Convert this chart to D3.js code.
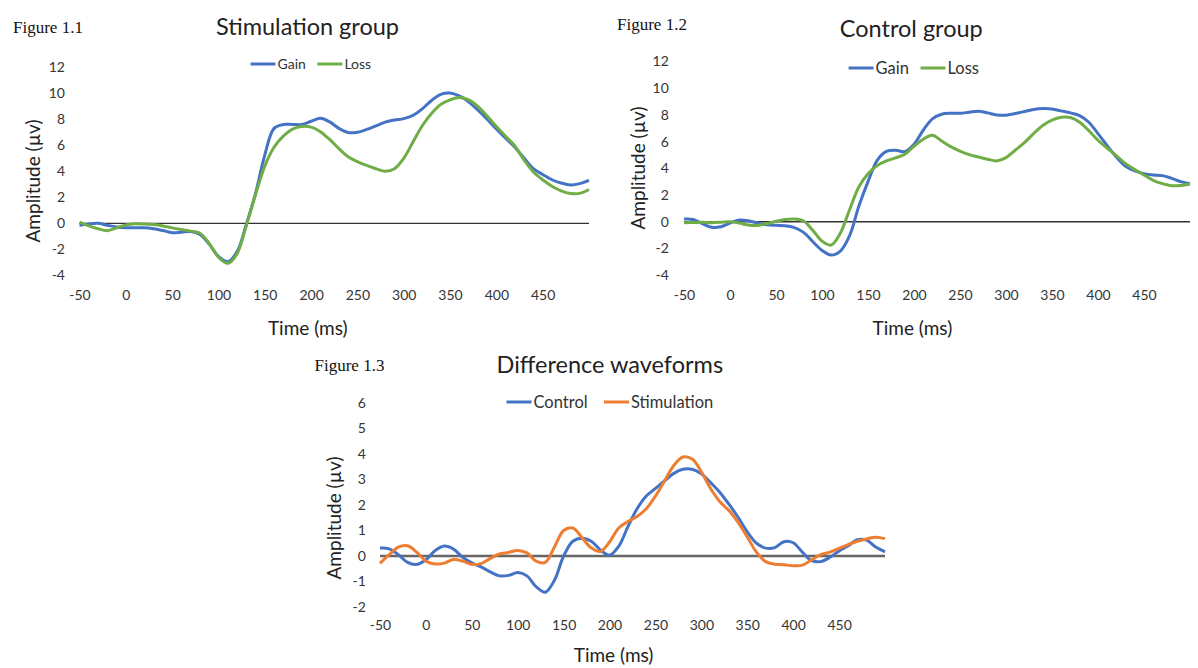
<!DOCTYPE html>
<html>
<head>
<meta charset="utf-8">
<script src="https://cdn.jsdelivr.net/npm/d3@7"></script>
<style>
  body { margin: 0; background: #fff; }
  svg { display: block; }
  .tick text { fill: #353535; }
</style>
</head>
<body>
<svg id="chart" width="1198" height="668"></svg>
<script>
// time axis (ms), shared by the three figures
const times = [-50, -40, -30, -20, -10, 0, 10, 20, 30, 40,
  50, 60, 70, 80, 90, 100, 110, 120, 130, 140,
  150, 160, 170, 180, 190, 200, 210, 220, 230, 240,
  250, 260, 270, 280, 290, 300, 310, 320, 330, 340,
  350, 360, 370, 380, 390, 400, 410, 420, 430, 440,
  450, 460, 470, 480, 490, 500];

const xTicks = [-50, 0, 50, 100, 150, 200, 250, 300, 350, 400, 450];
const yTicksGroup = [-4, -2, 0, 2, 4, 6, 8, 10, 12];
const yTicksDiff = [-2, -1, 0, 1, 2, 3, 4, 5, 6];

// Figure 1.1 - stimulation group
const stimGain = [-0.15, -0.05, 0.0, -0.15, -0.28, -0.34, -0.35, -0.34, -0.42, -0.56,
  -0.72, -0.68, -0.64, -0.85, -1.6, -2.55, -2.95, -2.2, -0.1, 2.3,
  5.25, 7.3, 7.6, 7.6, 7.6, 7.85, 8.08, 7.8, 7.3, 6.98,
  7.0, 7.22, 7.5, 7.78, 7.95, 8.05, 8.3, 8.8, 9.45, 9.92,
  10.02, 9.8, 9.35, 8.72, 8.0, 7.25, 6.55, 5.85, 5.0, 4.2,
  3.75, 3.35, 3.1, 2.95, 3.05, 3.3];
const stimLoss = [0.1, -0.2, -0.42, -0.57, -0.35, -0.12, -0.04, -0.05, -0.1, -0.2,
  -0.35, -0.48, -0.6, -0.77, -1.55, -2.6, -3.08, -2.35, -0.2, 2.2,
  4.4, 5.85, 6.7, 7.25, 7.45, 7.4, 7.05, 6.45, 5.75, 5.12,
  4.75, 4.45, 4.2, 4.0, 4.2, 5.0, 6.25, 7.5, 8.45, 9.15,
  9.5, 9.68, 9.5, 9.0, 8.25, 7.45, 6.7, 5.95, 4.85, 3.95,
  3.35, 2.85, 2.5, 2.3, 2.3, 2.6];

// Figure 1.2 - control group
const ctrlGain = [0.2, 0.17, -0.15, -0.42, -0.38, -0.1, 0.12, 0.07, -0.1, -0.22,
  -0.27, -0.3, -0.44, -0.8, -1.5, -2.15, -2.5, -2.2, -1.05, 1.15,
  3.0, 4.6, 5.27, 5.36, 5.25, 5.8, 6.85, 7.7, 8.05, 8.12,
  8.12, 8.2, 8.28, 8.15, 8.0, 7.98, 8.1, 8.25, 8.41, 8.48,
  8.45, 8.3, 8.15, 7.95, 7.45, 6.6, 5.7, 4.85, 4.15, 3.8,
  3.6, 3.5, 3.45, 3.25, 3.0, 2.85];
const ctrlLoss = [-0.07, -0.06, -0.05, -0.07, -0.04, 0.0, -0.1, -0.25, -0.28, -0.14,
  0.03, 0.17, 0.2, 0.05, -0.65, -1.45, -1.75, -0.85, 0.9, 2.6,
  3.6, 4.2, 4.55, 4.78, 5.05, 5.65, 6.18, 6.48, 6.05, 5.62,
  5.28, 5.02, 4.85, 4.68, 4.55, 4.8, 5.35, 5.92, 6.6, 7.2,
  7.6, 7.82, 7.8, 7.45, 6.82, 6.1, 5.5, 4.95, 4.35, 3.9,
  3.5, 3.1, 2.85, 2.7, 2.72, 2.82];

// Figure 1.3 - difference waveforms
const diffControl = [0.31, 0.28, 0.05, -0.25, -0.33, -0.15, 0.21, 0.39, 0.27, -0.05,
  -0.27, -0.43, -0.62, -0.78, -0.76, -0.65, -0.78, -1.2, -1.42, -0.95,
  0.0, 0.58, 0.7, 0.58, 0.24, 0.03, 0.38, 1.15, 1.85, 2.35,
  2.65, 2.95, 3.24, 3.4, 3.4, 3.22, 2.88, 2.5, 2.03, 1.52,
  0.95, 0.5, 0.31, 0.33, 0.56, 0.52, 0.15, -0.18, -0.22, -0.05,
  0.2, 0.4, 0.64, 0.62, 0.35, 0.16];
const diffStim = [-0.29, 0.05, 0.35, 0.4, 0.15, -0.2, -0.31, -0.28, -0.14, -0.2,
  -0.33, -0.3, -0.1, 0.08, 0.14, 0.22, 0.12, -0.2, -0.25, 0.35,
  1.0, 1.1, 0.72, 0.32, 0.18, 0.55, 1.1, 1.35, 1.55, 1.85,
  2.35, 2.95, 3.55, 3.88, 3.8, 3.3, 2.65, 2.14, 1.78, 1.32,
  0.75, 0.15, -0.22, -0.32, -0.34, -0.38, -0.36, -0.15, 0.05, 0.15,
  0.3, 0.45, 0.58, 0.67, 0.74, 0.68];

const BLUE = "#4472c4", GREEN = "#70ad47", ORANGE = "#ed7d31";
const SANS = "Lato, 'Open Sans', sans-serif";

const svg = d3.select("#chart");
svg.append("rect").attr("width", 1198).attr("height", 668).attr("fill", "#fff");

const drawPanel = (p) => {
  const g = svg.append("g");

  const x = d3.scaleLinear().domain([-50, 500]).range(p.xRange);
  const y = d3.scaleLinear().domain(p.yDomain).range(p.yRange);

  // tick labels only, no axis lines
  g.append("g")
    .attr("transform", `translate(${p.tickRight},0)`)
    .call(d3.axisLeft(y).tickValues(p.yTicks).tickSize(0).tickPadding(0).tickFormat((d) => String(d)))
    .call((a) => a.select(".domain").remove())
    .attr("font-family", SANS)
    .attr("font-size", 14);

  g.append("g")
    .attr("transform", `translate(0,${p.xLabelTop})`)
    .call(d3.axisBottom(x).tickValues(xTicks).tickSize(0).tickPadding(0).tickFormat((d) => String(d)))
    .call((a) => a.select(".domain").remove())
    .attr("font-family", SANS)
    .attr("font-size", 14);

  // zero line
  g.append("line")
    .attr("x1", x(-50)).attr("x2", x(500))
    .attr("y1", y(0)).attr("y2", y(0))
    .attr("stroke", p.zeroColor)
    .attr("stroke-width", p.zeroWidth);

  const line = d3.line()
    .x((d, i) => x(times[i]))
    .y((d) => y(d))
    .curve(d3.curveCatmullRom.alpha(0.5));

  p.series.forEach((s) => {
    g.append("path")
      .datum(s.values)
      .attr("fill", "none")
      .attr("stroke", s.color)
      .attr("stroke-width", 3)
      .attr("stroke-linejoin", "round")
      .attr("d", line);
  });

  // legend
  p.series.forEach((s, i) => {
    const lx = p.legend[i];
    g.append("line")
      .attr("x1", lx).attr("x2", lx + 25)
      .attr("y1", p.legendY).attr("y2", p.legendY)
      .attr("stroke", s.color)
      .attr("stroke-width", 3);
    g.append("text")
      .attr("x", lx + 27)
      .attr("y", p.legendY)
      .attr("dy", "0.35em")
      .attr("font-family", SANS)
      .attr("font-size", p.legendSize)
      .attr("fill", "#333")
      .text(s.name);
  });

  g.append("text")
    .attr("x", p.titleX)
    .attr("y", p.titleY)
    .attr("text-anchor", "middle")
    .attr("font-family", SANS)
    .attr("font-size", 23.5)
    .attr("fill", "#222")
    .text(p.title);

  g.append("text")
    .attr("x", p.figX)
    .attr("y", p.figY)
    .attr("font-family", "'Liberation Serif', 'Times New Roman', serif")
    .attr("font-size", 17)
    .attr("fill", "#111")
    .text(p.fig);

  g.append("text")
    .attr("transform", `translate(${p.yTitleX},${p.yTitleY}) rotate(-90)`)
    .attr("text-anchor", "middle")
    .attr("dy", "0.35em")
    .attr("font-family", SANS)
    .attr("font-size", 19)
    .attr("fill", "#222")
    .text("Amplitude (µv)");

  g.append("text")
    .attr("x", p.xTitleX)
    .attr("y", p.xTitleY)
    .attr("dy", "0.35em")
    .attr("text-anchor", "middle")
    .attr("font-family", SANS)
    .attr("font-size", 19)
    .attr("fill", "#222")
    .text("Time (ms)");
};

drawPanel({
  title: "Stimulation group", fig: "Figure 1.1",
  xRange: [79.5, 589], yDomain: [-4, 12], yRange: [275.3, 67.3], yTicks: yTicksGroup,
  tickRight: 65, xLabelTop: 290,
  zeroColor: "#333", zeroWidth: 1.3,
  series: [{ name: "Gain", values: stimGain, color: BLUE }, { name: "Loss", values: stimLoss, color: GREEN }],
  legend: [250.5, 317.4], legendY: 64, legendSize: 14,
  titleX: 307.5, titleY: 35, figX: 13, figY: 33,
  yTitleX: 33.7, yTitleY: 181, xTitleX: 307.8, xTitleY: 328
});

drawPanel({
  title: "Control group", fig: "Figure 1.2",
  xRange: [684, 1190], yDomain: [-4, 12], yRange: [275.1, 61.5], yTicks: yTicksGroup,
  tickRight: 668.8, xLabelTop: 290,
  zeroColor: "#333", zeroWidth: 1.4,
  series: [{ name: "Gain", values: ctrlGain, color: BLUE }, { name: "Loss", values: ctrlLoss, color: GREEN }],
  legend: [848.6, 920.5], legendY: 68, legendSize: 16.5,
  titleX: 911.3, titleY: 36.5, figX: 617, figY: 30,
  yTitleX: 638.2, yTitleY: 168, xTitleX: 912.4, xTitleY: 328
});

drawPanel({
  title: "Difference waveforms", fig: "Figure 1.3",
  xRange: [380, 885], yDomain: [-2, 6], yRange: [607, 403], yTicks: yTicksDiff,
  tickRight: 365.8, xLabelTop: 620,
  zeroColor: "#666", zeroWidth: 2.5,
  series: [{ name: "Control", values: diffControl, color: BLUE }, { name: "Stimulation", values: diffStim, color: ORANGE }],
  legend: [506.5, 604], legendY: 402, legendSize: 16.5,
  titleX: 609.8, titleY: 372.5, figX: 314.5, figY: 370.5,
  yTitleX: 334.4, yTitleY: 518, xTitleX: 613.6, xTitleY: 655
});
</script>
</body>
</html>
